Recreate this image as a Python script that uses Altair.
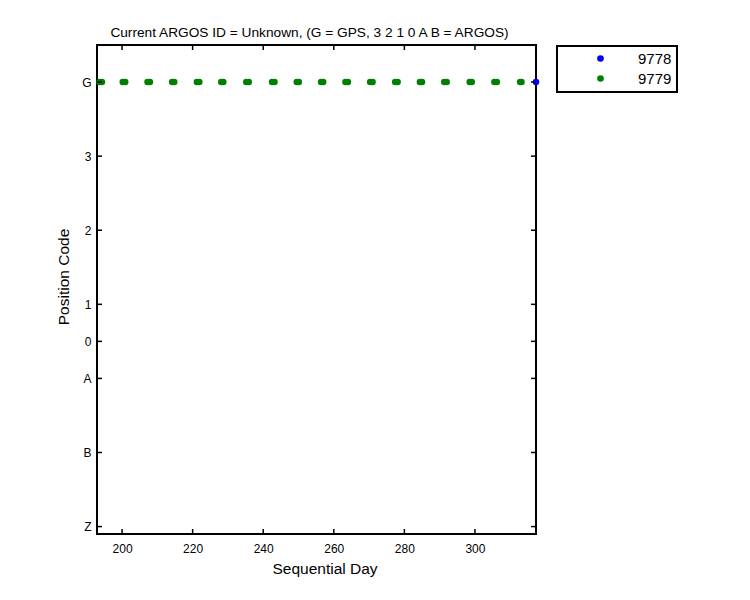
import altair as alt
import pandas as pd

# ---- data ----
code_labels = ["Z", "B", "A", "0", "1", "2", "3", "G"]
code_levels = [-5, -3, -1, 0, 1, 3, 5, 7]

ids = ["9778", "9779"]
id_colors = ["#0000ff", "#008000"]

days_9778 = [317.3]
codes_9778 = ["G"]

days_9779 = [193.6, 194.3, 200.2, 200.9, 207.2, 207.9, 214.2, 214.8,
             221.2, 221.9, 228.1, 228.7, 235.2, 235.9, 242.5, 243.2,
             249.5, 250.1, 256.4, 257.0, 263.3, 264.0, 270.3, 271.0,
             277.4, 278.1, 284.4, 285.0, 291.3, 292.0, 298.5, 299.1,
             305.5, 306.2, 312.8, 313.2]
codes_9779 = ["G"] * len(days_9779)

x_ticks = [200, 220, 240, 260, 280, 300]
x_domain = [192.9, 317.3]
y_domain = [-5.2, 8.0]

W, H = 439, 489
TICK = 5

level_of = dict(zip(code_labels, code_levels))
rows = []
for d, c in zip(days_9778, codes_9778):
    rows.append({"day": d, "code": level_of[c], "id": "9778"})
for d, c in zip(days_9779, codes_9779):
    rows.append({"day": d, "code": level_of[c], "id": "9779"})
df = pd.DataFrame(rows)

xs = alt.Scale(domain=x_domain, nice=False, zero=False)
ys = alt.Scale(domain=y_domain, nice=False, zero=False)

label_expr = " : ".join(
    f"datum.value == {v} ? '{l}'" for v, l in zip(code_levels, code_labels)
) + " : ''"

x_axis = alt.Axis(values=x_ticks, format="d", ticks=False, tickSize=0,
                  domain=False, grid=False, labelPadding=9,
                  labelFontSize=12, labelColor="black",
                  labelFont="Liberation Sans",
                  titleFont="Liberation Sans", titleFontSize=15.5,
                  titleFontWeight="normal", titleColor="black",
                  titleBaseline="alphabetic", titleX=227.5, titleY=39.3,
                  titleAlign="center")
y_axis = alt.Axis(values=code_levels, labelExpr=label_expr,
                  ticks=False, tickSize=0, domain=False, grid=False,
                  labelPadding=6, labelFontSize=12, labelColor="black",
                  labelFont="Liberation Sans", labelBaseline="middle",
                  titleFont="Liberation Sans", titleFontSize=15.5,
                  titleFontWeight="normal", titleColor="black",
                  titleBaseline="alphabetic", titleX=-28.3, titleY=231.5,
                  titleAlign="center", titleAngle=270)

points = alt.Chart(df).mark_circle(size=42, opacity=1).encode(
    x=alt.X("day:Q", scale=xs, title="Sequential Day", axis=x_axis),
    y=alt.Y("code:Q", scale=ys, title="Position Code", axis=y_axis),
    color=alt.Color("id:N", scale=alt.Scale(domain=ids, range=id_colors),
                    legend=alt.Legend(title=None, orient="none", legendX=460, legendY=1,
                                      strokeColor="black",
                                      fillColor="white", padding=5,
                                      symbolType="circle", symbolSize=44,
                                      symbolOffset=31, labelOffset=30,
                                      labelFontSize=15, labelFont="Liberation Sans",
                                      labelColor="black", rowPadding=4,
                                      symbolStrokeWidth=0)),
    order=alt.Order("id:N"),
)

xt = pd.DataFrame({"t": x_ticks})
yt = pd.DataFrame({"t": code_levels})

def xrule(y0, y1):
    return alt.Chart(xt).mark_rule(color="black", strokeWidth=1.5).encode(
        x=alt.X("t:Q", scale=xs, title="Sequential Day", axis=x_axis),
        y=alt.value(y0), y2=alt.value(y1))

def yrule(x0, x1):
    return alt.Chart(yt).mark_rule(color="black", strokeWidth=1.5).encode(
        y=alt.Y("t:Q", scale=ys, title="Position Code", axis=y_axis),
        x=alt.value(x0), x2=alt.value(x1))

chart = alt.layer(
    points,
    xrule(H - TICK, H), xrule(0, TICK),
    yrule(0, TICK), yrule(W - TICK, W),
).properties(
    width=W, height=H,
    background="white",
    title=alt.TitleParams("Current ARGOS ID = Unknown,  (G = GPS, 3 2 1 0 A B = ARGOS)",
                          font="Liberation Sans", fontSize=13.7, fontWeight="normal",
                          color="black", anchor="middle", frame="group",
                          baseline="alphabetic", offset=-6, dx=-7),
    autosize="none",
    padding={"left": 89, "top": 37, "right": 205, "bottom": 58},
).configure_view(stroke="black", strokeWidth=2).configure_legend(strokeWidth=2)

chart.save("out.html", embed_options={"renderer": "svg", "actions": False})
